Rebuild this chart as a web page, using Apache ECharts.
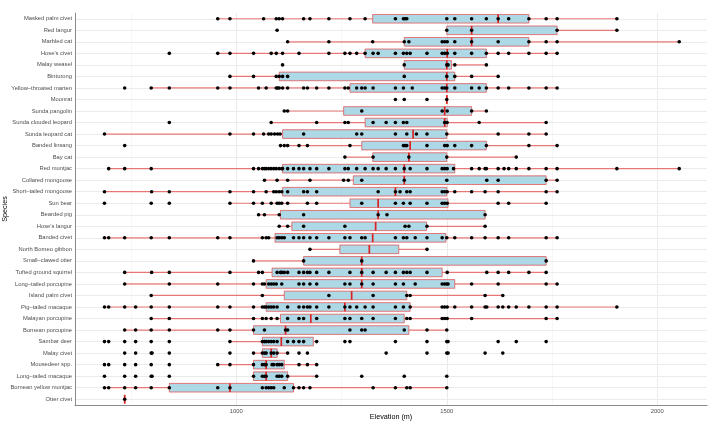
<!DOCTYPE html>
<html><head><meta charset="utf-8">
<script src="https://cdn.jsdelivr.net/npm/echarts@6/dist/echarts.min.js"></script>
<style>html,body{margin:0;padding:0;background:#fff}#c{width:709px;height:424px}</style>
</head><body><div id="c"></div>
<script>
const species = ["Masked palm civet","Red langur","Marbled cat","Hose's civet","Malay weasel","Binturong","Yellow\u2013throated marten","Moonrat","Sunda pangolin","Sunda clouded leopard","Sunda leopard cat","Banded linsang","Bay cat","Red muntjac","Collared mongoose","Short\u2013tailed mongoose","Sun bear","Bearded pig","Hose's langur","Banded civet","North Borneo gibbon","Small\u2013clawed otter","Tufted ground squirrel","Long\u2013tailed porcupine","Island palm civet","Pig\u2013tailed macaque","Malayan porcupine","Bornean porcupine","Sambar deer","Malay civet","Mousedeer spp.","Long\u2013tailed macaque","Bornean yellow muntjac","Otter civet"];
const whiskerLow  = [956,1500,1122,956,1399,985,798,1500,1114,1083,687,1105,1258,697,1067,687,985,1053,1102,687,1175,1041,735,735,798,687,798,735,985,1041,956,1041,687,735];
const q1          = [1324,1500,1399,1306,1399,1102,1270,1500,1255,1306,1110,1298,1324,1110,1278,1110,1270,1105,1132,1092,1246,1160,1085,1071,1114,1071,1105,1041,1062,1062,1041,1041,841,735];
const median      = [1622,1559,1559,1501,1500,1500,1500,1500,1495,1495,1420,1413,1410,1399,1399,1378,1337,1337,1331,1324,1316,1298,1298,1298,1274,1258,1177,1117,1107,1083,1071,1071,985,735];
const q3          = [1695,1762,1695,1594,1511,1519,1594,1500,1559,1501,1500,1594,1500,1519,1736,1500,1503,1591,1452,1498,1386,1736,1489,1519,1405,1413,1399,1410,1183,1097,1114,1122,1136,735];
const whiskerHigh = [1904,1904,2052,1762,1594,1622,1762,1500,1594,1736,1736,1762,1665,2052,1762,1762,1736,1591,1591,1762,1453,1736,1736,1762,1633,1904,1762,1500,1191,1122,1191,1191,1500,735];
const elevations = [
 [956,985,1065,1095,1102,1110,1160,1175,1220,1270,1306,1378,1397,1401,1405,1500,1519,1559,1594,1622,1647,1695,1736,1762,1904],
 [1097,1500,1559,1762,1904],
 [1122,1220,1324,1399,1410,1489,1495,1501,1519,1559,1622,1695,1736,1762,2052],
 [841,956,985,1041,1083,1095,1110,1149,1220,1258,1270,1286,1306,1325,1337,1378,1397,1405,1413,1453,1489,1495,1501,1519,1559,1594,1622,1647,1695,1736,1762],
 [1110,1399,1500,1503,1519,1594],
 [985,1041,1095,1102,1110,1122,1399,1500,1519,1559,1622],
 [735,798,841,956,985,1053,1071,1095,1098,1102,1110,1122,1160,1169,1191,1220,1258,1266,1286,1298,1306,1325,1378,1397,1418,1489,1495,1500,1519,1559,1577,1594,1622,1647,1695,1736,1762],
 [1378,1399,1453,1500],
 [1114,1122,1298,1489,1501,1559,1594],
 [841,1083,1191,1258,1266,1325,1356,1378,1397,1405,1495,1501,1577,1736],
 [687,985,1041,1065,1077,1083,1091,1098,1104,1160,1286,1298,1378,1405,1428,1453,1500,1622,1695,1736],
 [735,1105,1114,1122,1149,1169,1270,1397,1401,1405,1453,1495,1501,1519,1559,1594,1695,1762],
 [1258,1325,1410,1500,1665],
 [697,735,798,1041,1053,1062,1067,1071,1077,1083,1089,1095,1102,1108,1110,1122,1136,1149,1160,1175,1191,1220,1258,1266,1286,1306,1325,1337,1356,1378,1399,1413,1453,1489,1495,1501,1516,1559,1577,1591,1594,1622,1636,1647,1665,1695,1736,1762,1904,2052],
 [1067,1097,1122,1175,1255,1266,1298,1399,1500,1595,1622,1736,1762],
 [687,799,841,985,1041,1071,1089,1095,1102,1108,1122,1160,1169,1191,1337,1378,1389,1405,1413,1489,1495,1501,1519,1559,1591,1622,1736,1762],
 [687,798,841,985,1041,1062,1083,1097,1102,1108,1122,1169,1191,1298,1378,1397,1413,1453,1489,1495,1501,1622,1647,1736],
 [1053,1067,1102,1160,1337,1358,1591],
 [1102,1122,1160,1258,1401,1410,1453,1591],
 [687,697,735,798,841,956,985,1062,1071,1077,1097,1102,1108,1114,1136,1149,1160,1175,1191,1220,1258,1270,1298,1306,1378,1397,1405,1425,1453,1489,1500,1519,1559,1591,1622,1647,1736,1762],
 [1175,1453],
 [1041,1160,1298,1736],
 [735,799,841,985,1053,1062,1097,1105,1108,1114,1122,1149,1160,1169,1175,1191,1220,1270,1298,1325,1356,1378,1397,1405,1413,1453,1501,1595,1622,1647,1695,1736],
 [735,841,956,1041,1062,1067,1077,1083,1089,1095,1108,1149,1160,1175,1191,1258,1270,1298,1325,1378,1397,1425,1489,1495,1500,1503,1559,1622,1736,1762],
 [798,1062,1220,1325,1405,1413,1591,1633],
 [687,697,735,761,798,841,956,985,1041,1062,1067,1071,1077,1083,1089,1097,1122,1149,1160,1169,1175,1191,1220,1258,1270,1286,1306,1325,1378,1397,1413,1489,1495,1501,1519,1559,1591,1595,1622,1633,1647,1665,1695,1736,1762,1904],
 [798,841,1041,1062,1071,1083,1097,1122,1149,1160,1191,1258,1270,1298,1325,1378,1405,1413,1489,1495,1501,1559,1736,1762],
 [735,761,798,841,956,985,1041,1067,1117,1122,1270,1298,1306,1399,1453,1500],
 [687,697,735,761,798,841,985,1062,1067,1071,1077,1083,1089,1097,1122,1136,1149,1160,1191,1258,1270,1378,1453,1500,1503,1622,1665,1736],
 [735,761,798,800,841,985,1041,1062,1067,1071,1083,1089,1097,1122,1149,1169,1356,1453,1500,1503,1591,1633],
 [687,697,735,761,798,841,956,985,1041,1062,1067,1071,1085,1089,1097,1102,1108,1149,1169,1191],
 [687,735,761,798,800,841,1041,1062,1067,1071,1097,1102,1108,1122,1191,1298,1399,1500],
 [687,697,735,761,798,841,956,985,1062,1071,1077,1083,1089,1114,1136,1149,1160,1175,1325,1378,1405,1413,1500],
 [735]
];
const xTickLabels = [1000, 1500, 2000];
const xMinorGrid = [750, 1250, 1750];
const xRange = [617, 2118];

const chart = echarts.init(document.getElementById('c'), null, {renderer: 'canvas'});
const FONT = 'Liberation Sans, Arial, sans-serif';

const boxData = species.map((s, i) => [i, whiskerLow[i], q1[i], median[i], q3[i], whiskerHigh[i]]);
const pointData = [];
elevations.forEach((arr, i) => arr.forEach(v => pointData.push([v, i])));

const gridLines = []
  .concat(xTickLabels.map(v => ({xAxis: v, lineStyle: {color: '#EBEBEB', width: 1, type: 'solid'}})))
  .concat(xMinorGrid.map(v => ({xAxis: v, lineStyle: {color: '#F3F3F3', width: 0.7, type: 'solid'}})))
  .concat(species.map((s, i) => ({yAxis: i, lineStyle: {color: '#EBEBEB', width: 1, type: 'solid'}})));

function renderBox(params, api) {
  const c = api.value(0);
  const lo = api.coord([api.value(1), c]);
  const a = api.coord([api.value(2), c]);
  const m = api.coord([api.value(3), c]);
  const b = api.coord([api.value(4), c]);
  const hi = api.coord([api.value(5), c]);
  const band = api.size([0, 1])[1];
  const h = band * 0.75;
  const y = lo[1];
  const red = 'rgba(228,64,64,0.68)';
  return {
    type: 'group',
    children: [
      {type: 'line', shape: {x1: lo[0], y1: y, x2: a[0], y2: y}, style: {stroke: red, lineWidth: 1.2}},
      {type: 'line', shape: {x1: b[0], y1: y, x2: hi[0], y2: y}, style: {stroke: red, lineWidth: 1.2}},
      {type: 'rect', shape: {x: a[0], y: y - h / 2, width: b[0] - a[0], height: h}, style: {fill: '#ADD8E6', stroke: red, lineWidth: 1}},
      {type: 'line', shape: {x1: m[0], y1: y - h / 2, x2: m[0], y2: y + h / 2}, style: {stroke: '#D92323', lineWidth: 1.7}}
    ]
  };
}

chart.setOption({
  animation: false,
  backgroundColor: '#fff',
  grid: {left: 75, right: 2, top: 13, bottom: 19, containLabel: false, outerBoundsMode: 'none'},
  xAxis: {
    type: 'value', min: xRange[0], max: xRange[1],
    axisLine: {show: true, lineStyle: {color: '#8a8a8a', width: 1}},
    axisTick: {show: false},
    splitLine: {show: false},
    axisLabel: {customValues: xTickLabels, formatter: v => String(v), fontSize: 5.8, color: '#4D4D4D', margin: 3, fontFamily: FONT},
    name: 'Elevation (m)', nameLocation: 'middle', nameGap: 9, nameMoveOverlap: false,
    nameTextStyle: {fontSize: 7.2, color: '#000', fontFamily: FONT}
  },
  yAxis: {
    type: 'category', data: species, inverse: true,
    axisLine: {show: true, lineStyle: {color: '#8a8a8a', width: 1}},
    axisTick: {show: false},
    splitLine: {show: false},
    axisLabel: {fontSize: 5.8, color: '#4D4D4D', margin: 3, fontFamily: FONT, interval: 0},
    name: 'Species', nameLocation: 'middle', nameGap: 66, nameRotate: 90, nameMoveOverlap: false,
    nameTextStyle: {fontSize: 7.2, color: '#000', fontFamily: FONT}
  },
  series: [
    {type: 'scatter', data: [], z: 1, silent: true,
     markLine: {silent: true, symbol: 'none', label: {show: false}, animation: false, z: 0, data: gridLines}},
    {type: 'custom', renderItem: renderBox, data: boxData, z: 2, silent: true,
     encode: {x: [1, 2, 3, 4, 5], y: 0}},
    {type: 'scatter', data: pointData, z: 3, symbol: 'circle', symbolSize: 3.6, silent: true,
     itemStyle: {color: '#000', opacity: 1, borderWidth: 0}}
  ]
});
</script></body></html>
